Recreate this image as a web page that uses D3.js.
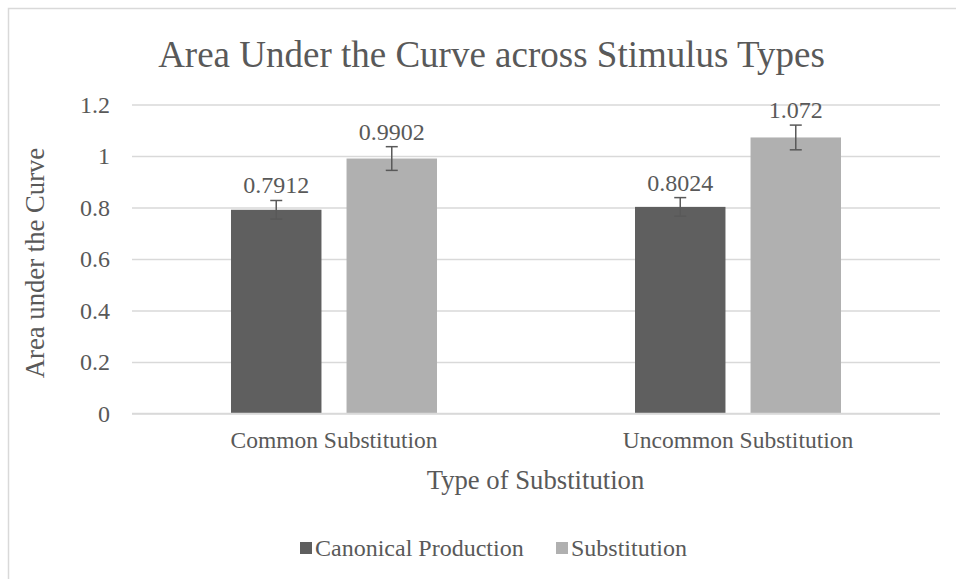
<!DOCTYPE html>
<html><head><meta charset="utf-8">
<script src="https://cdn.jsdelivr.net/npm/d3@7"></script>
<style>body{margin:0;background:#fff}svg{display:block} svg text{font-family:"Liberation Serif","Times New Roman",Times,"DejaVu Serif",serif;}</style>
</head><body>
<script>
const categories = ["Common Substitution", "Uncommon Substitution"];
const seriesNames = ["Canonical Production", "Substitution"];
const canonicalValues = [0.7912, 0.8024];
const substitutionValues = [0.9902, 1.072];
const canonicalErrors = [0.036, 0.036];
const substitutionErrors = [0.046, 0.048];
const yTicks = [0, 0.2, 0.4, 0.6, 0.8, 1, 1.2];
const colors = ["#5f5f5f", "#b0b0b0"];

(function () {
const W = 956, H = 579;
const svg = d3.select("body").append("svg").attr("width", W).attr("height", H);
const font = '"Liberation Serif","Times New Roman",Times,"DejaVu Serif",serif';
const txt = "#595959";

svg.append("path").attr("d", `M${W+5},8.5 H8.5 V${H+5}`).attr("fill", "none").attr("stroke", "#d9d9d9").attr("stroke-width", 1.5);

const pL = 132, pR = 940, pT = 104.5, pB = 413.5;
const x0 = d3.scaleBand().domain(categories).range([pL, pR]);
const x1 = d3.scaleBand().domain(seriesNames).range([0, 206]).paddingInner(0.217);
const y = d3.scaleLinear().domain([0, 1.2]).range([pB, pT]);

const yAxis = svg.append("g").attr("transform", `translate(${pL},0)`)
  .call(d3.axisLeft(y).tickValues(yTicks).tickSize(-(pR - pL)).tickFormat(d3.format("")));
yAxis.attr("font-family", null).attr("font-size", null);
yAxis.select(".domain").remove();
yAxis.selectAll(".tick line").attr("stroke", "#d9d9d9").attr("stroke-width", 1.3);
yAxis.selectAll(".tick text").attr("x", -22).attr("fill", txt).style("font-family", font).style("font-size", "24px");

const xAxis = svg.append("g").attr("transform", `translate(0,${pB})`)
  .call(d3.axisBottom(x0).tickSize(0).tickPadding(18));
xAxis.attr("font-family", null).attr("font-size", null);
xAxis.select(".domain").remove();
xAxis.selectAll(".tick text").attr("fill", txt).style("font-family", font).style("font-size", "23.5px");

const series = [
  {name: seriesNames[0], values: canonicalValues, errs: canonicalErrors},
  {name: seriesNames[1], values: substitutionValues, errs: substitutionErrors}
];
const rows = [];
series.forEach((s, si) => categories.forEach((c, ci) => rows.push({cat: c, name: s.name, v: s.values[ci], e: s.errs[ci], si})));

const off = (x0.bandwidth() - 206) / 2;
const bx = d => x0(d.cat) + off + x1(d.name);

svg.append("g").selectAll("rect").data(rows).join("rect")
  .attr("x", bx).attr("width", x1.bandwidth())
  .attr("y", d => y(d.v)).attr("height", d => y(0) - y(d.v))
  .attr("fill", d => colors[d.si]);

svg.append("line").attr("x1", pL).attr("x2", pR).attr("y1", pB).attr("y2", pB)
  .attr("stroke", "#d9d9d9").attr("stroke-width", 1.3);

const eb = svg.append("g").attr("stroke", "#595959").attr("stroke-width", 1.5);
rows.forEach(d => {
  const cx = bx(d) + x1.bandwidth() / 2;
  eb.append("line").attr("x1", cx).attr("x2", cx).attr("y1", y(d.v + d.e)).attr("y2", y(d.v - d.e));
  eb.append("line").attr("x1", cx - 6).attr("x2", cx + 6).attr("y1", y(d.v + d.e)).attr("y2", y(d.v + d.e));
  eb.append("line").attr("x1", cx - 6).attr("x2", cx + 6).attr("y1", y(d.v - d.e)).attr("y2", y(d.v - d.e));
});

svg.append("g").selectAll("text").data(rows).join("text")
  .attr("x", d => bx(d) + x1.bandwidth() / 2)
  .attr("y", d => y(d.v + d.e) - 7)
  .attr("text-anchor", "middle").attr("fill", txt)
  .style("font-family", font).style("font-size", "24px")
  .text(d => String(d.v));

svg.append("text").attr("x", 491.5).attr("y", 67).attr("text-anchor", "middle").attr("fill", txt)
  .style("font-family", font).style("font-size", "37px").text("Area Under the Curve across Stimulus Types");

svg.append("text").attr("transform", `translate(44,${(pT + pB) / 2 + 4}) rotate(-90)`)
  .attr("text-anchor", "middle").attr("fill", txt)
  .style("font-family", font).style("font-size", "26.7px").text("Area under the Curve");

svg.append("text").attr("x", 535.5).attr("y", 489).attr("text-anchor", "middle").attr("fill", txt)
  .style("font-family", font).style("font-size", "26.7px").text("Type of Substitution");

const leg = svg.append("g");
const legX = [300, 556];
seriesNames.forEach((n, i) => {
  leg.append("rect").attr("x", legX[i]).attr("y", 542).attr("width", 12).attr("height", 12).attr("fill", colors[i]);
  leg.append("text").attr("x", legX[i] + 15).attr("y", 556).attr("fill", txt)
    .style("font-family", font).style("font-size", "24px").text(n);
});
})();
</script>
</body></html>
